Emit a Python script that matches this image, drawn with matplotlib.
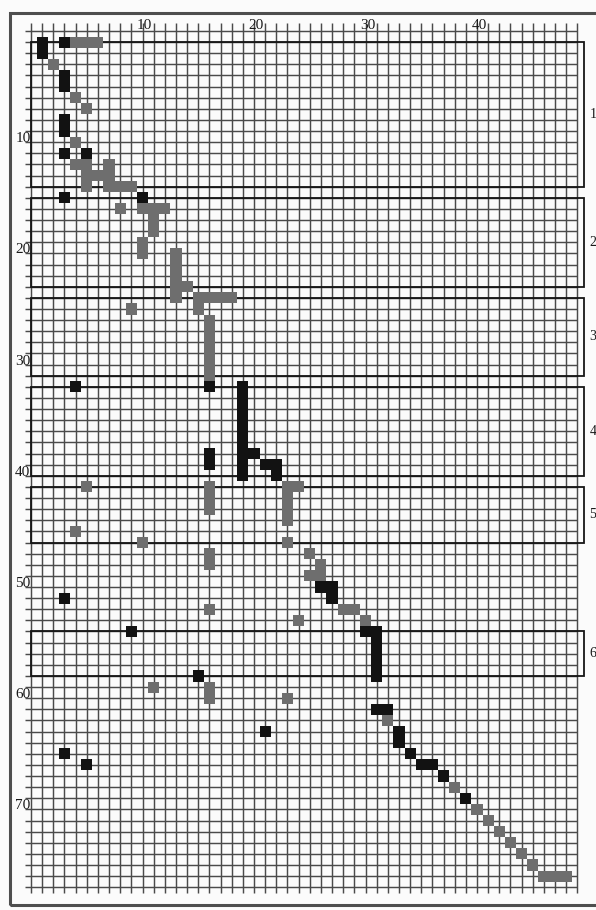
import matplotlib.pyplot as plt
from matplotlib.patches import Rectangle

# matrix size (columns x rows)
n_cols = 49
n_rows = 77

# strong links: (column, row)
black_cells = [
    (1, 1), (1, 2), (3, 1), (3, 4), (3, 5), (3, 8), (3, 9), (3, 11), (5, 11),
    (3, 15), (10, 15), (4, 32), (16, 32),
    (19, 32), (19, 33), (19, 34), (19, 35), (19, 36), (19, 37), (19, 38), (19, 39), (19, 40),
    (16, 38), (16, 39), (20, 38), (21, 39), (22, 39), (22, 40),
    (3, 51), (26, 50), (27, 50), (27, 51), (9, 54),
    (30, 54), (31, 54), (31, 55), (31, 56), (31, 57), (31, 58), (15, 58),
    (31, 61), (32, 61), (21, 63), (33, 63), (33, 64), (3, 65), (34, 65),
    (5, 66), (35, 66), (36, 66), (37, 67), (39, 69),
]

# weak links: (column, row)
gray_cells = [
    (4, 1), (5, 1), (6, 1), (2, 3), (4, 6), (5, 7), (4, 10),
    (4, 12), (5, 12), (7, 12), (5, 13), (6, 13), (7, 13), (5, 14), (7, 14), (8, 14), (9, 14),
    (8, 16), (10, 16), (11, 16), (12, 16), (11, 17), (11, 18), (10, 19), (10, 20),
    (13, 20), (13, 21), (13, 22), (13, 23), (13, 24), (14, 23),
    (15, 24), (16, 24), (17, 24), (18, 24), (15, 25), (9, 25),
    (16, 26), (16, 27), (16, 28), (16, 29), (16, 30), (16, 31),
    (5, 41), (16, 41), (16, 42), (16, 43),
    (23, 41), (24, 41), (23, 42), (23, 43), (23, 44),
    (4, 45), (10, 46), (23, 46), (16, 47), (16, 48),
    (25, 47), (26, 48), (25, 49), (26, 49), (16, 52), (28, 52), (29, 52),
    (24, 53), (30, 53), (11, 59), (16, 59), (16, 60), (23, 60), (32, 62),
    (38, 68), (40, 70), (41, 71), (42, 72), (43, 73), (44, 74), (45, 75),
    (46, 76), (47, 76), (48, 76),
]

# row blocks marked on the right
group_names = ['1', '2', '3', '4', '5', '6']
group_top = [1, 15, 24, 32, 41, 54]
group_bottom = [14, 23, 31, 40, 46, 58]

x_labels = [10, 20, 30, 40]
y_labels = [10, 20, 30, 40, 50, 60, 70]

W, H = 596, 910
left_px, top_px = 31, 31
cell_w, cell_h = 11.15, 11.12

fig = plt.figure(figsize=(W / 100, H / 100), dpi=100, facecolor='#fbfbfb')
ax = fig.add_axes([left_px / W, 1 - (top_px + n_rows * cell_h) / H,
                   50 * cell_w / W, n_rows * cell_h / H])
ax.set_xlim(0, 50)
ax.set_ylim(n_rows, 0)
ax.axis('off')

serif = 'Liberation Serif'

# grid, with short overhangs acting as ticks
ax.vlines(range(n_cols + 1), -0.75, n_rows + 0.5, color='#4a4a4a', lw=1.05,
          clip_on=False, zorder=1)
ax.hlines(range(n_rows + 1), -0.55, n_cols, color='#4a4a4a', lw=1.05,
          clip_on=False, zorder=1)

for c, r in gray_cells:
    ax.add_patch(Rectangle((c - 0.5, r - 0.5), 1, 1, facecolor='#6e6e6e',
                           edgecolor='none', zorder=3))
for c, r in black_cells:
    ax.add_patch(Rectangle((c - 0.5, r - 0.5), 1, 1, facecolor='#121212',
                           edgecolor='none', zorder=4))

for name, top, bottom in zip(group_names, group_top, group_bottom):
    ax.add_patch(Rectangle((0, top), 49.6, bottom - top, fill=False,
                           edgecolor='#161616', lw=1.3, clip_on=False, zorder=2))
    ax.text(50.1, (top + bottom) / 2, name, ha='left', va='center',
            fontsize=10, family=serif, color='#1a1a1a')

for v in x_labels:
    ax.text(v + 0.2, -0.15, str(v), ha='center', va='baseline',
            fontsize=11, family=serif, color='#1a1a1a')
for v in y_labels:
    ax.text(-0.05, v, str(v), ha='right', va='baseline',
            fontsize=11, family=serif, color='#1a1a1a')

# outer frame
fig.add_artist(Rectangle((10 / W, 1 - 905 / H), 600 / W, (905 - 12.5) / H,
                         transform=fig.transFigure, fill=False,
                         edgecolor='#4e4e4e', lw=2.2))

fig.savefig('out.png', dpi=100, facecolor=fig.get_facecolor())
